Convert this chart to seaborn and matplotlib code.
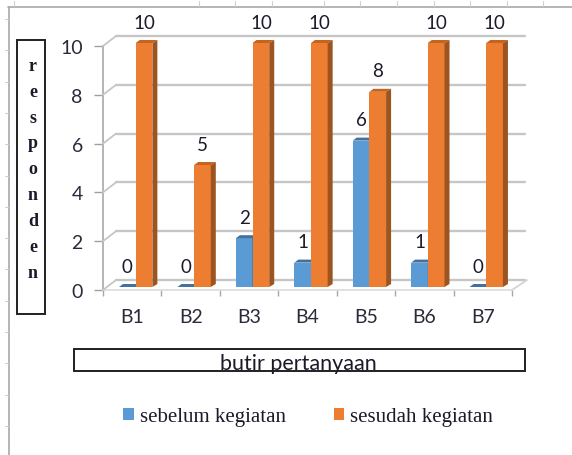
import matplotlib
matplotlib.use('Agg')
import matplotlib.pyplot as plt
from matplotlib.lines import Line2D
from matplotlib.patches import Polygon, Rectangle
from matplotlib.transforms import Affine2D
import pandas as pd
import seaborn as sns

# data
questions = ['B1', 'B2', 'B3', 'B4', 'B5', 'B6', 'B7']
sebelum = [0, 0, 2, 1, 6, 1, 0]
sesudah = [10, 5, 10, 10, 8, 10, 10]
series_names = ['sebelum kegiatan', 'sesudah kegiatan']

df = pd.DataFrame({
    'butir': questions * 2,
    'jumlah': sebelum + sesudah,
    'kegiatan': [series_names[0]] * 7 + [series_names[1]] * 7,
})

W, H = 572, 456
sns.set_style('white')
plt.rcParams['font.family'] = ['Lato', 'DejaVu Sans']
fig = plt.figure(figsize=(W / 100, H / 100), dpi=100)


def px_rect(x0, y0, x1, y1):
    return [x0 / W, 1 - y1 / H, (x1 - x0) / W, (y1 - y0) / H]


# axes = front plane of the fake 3D box
ax = fig.add_axes(px_rect(103, 47, 512, 291))
sns.barplot(data=df, x='butir', y='jumlah', hue='kegiatan', hue_order=series_names,
            palette=['#5b9bd5', '#ed7d31'], width=0.57, gap=0, saturation=1, linewidth=0, ax=ax)
ax.set_xlim(-0.5, 6.5)
ax.set_ylim(0, 10)
ax.patch.set_alpha(0)

bar_tf = ax.transData + Affine2D().translate(3.5, 3)
back_tf = ax.transData + Affine2D().translate(13, 10)
grid_color = '#c6c6c6'

# back wall gridlines and the diagonals to the front plane
for v in range(0, 11, 2):
    ax.plot([-0.5, 6.5], [v, v], color=grid_color, lw=1.7, transform=back_tf, clip_on=False, zorder=0.5)
    x0, y0 = ax.transData.transform((-0.5, v))
    fig.add_artist(Line2D([x0 / W, (x0 + 13) / W], [y0 / H, (y0 + 10) / H], color=grid_color, lw=1.3, zorder=0.5))
xr, yr = ax.transData.transform((6.5, 0))
fig.add_artist(Line2D([xr / W, (xr + 15) / W], [yr / H, (yr + 10) / H], color='#d4d4d4', lw=1.3, zorder=0.5))

for sp in ['top', 'right']:
    ax.spines[sp].set_visible(False)
ax.spines['left'].set_color('#b4b4b4')
ax.spines['left'].set_linewidth(1.4)
ax.spines['bottom'].set_color('#dcdcdc')
ax.spines['bottom'].set_linewidth(1.2)

# bars with side and top faces, orange in front of the blue ones
face_dark = [('#41719c', '#2f5d85'), ('#c4641f', '#9c5420')]
for z, cont, (top_c, side_c), vals in zip([3, 4], ax.containers, face_dark, [sebelum, sesudah]):
    for bar, val in zip(cont, vals):
        bar.set_transform(bar_tf)
        bar.set_clip_on(False)
        bar.set_zorder(z)
        x0, x1 = bar.get_x(), bar.get_x() + bar.get_width()
        (xa, ya), (xb, yb) = bar_tf.transform([(x0, val), (x1, 0)])
        top = Polygon([(xa, ya), (xa + 4, ya + 3), (xb + 5, ya + 3), (xb, ya)], closed=True,
                      transform=None, facecolor=top_c, edgecolor='none', zorder=z, clip_on=False)
        ax.add_artist(top)
        if val > 0:
            side = Polygon([(xb, yb), (xb + 5, yb + 3), (xb + 5, ya + 3), (xb, ya)], closed=True,
                           transform=None, facecolor=side_c, edgecolor='none', zorder=z, clip_on=False)
            ax.add_artist(side)
        ax.annotate(str(val), xy=((x0 + x1) / 2, val), xycoords=bar_tf, xytext=(0, 15),
                    textcoords='offset points', ha='center', va='center', fontsize=13.5,
                    color='#1a1a2a', zorder=5, annotation_clip=False)

# axes ticks
ax.set_yticks(range(0, 11, 2))
ax.tick_params(axis='y', length=6.5, width=1, color='#a0a0a0', left=True, labelsize=14,
               labelcolor='#2a2a3a', pad=8)
ax.set_xticks([i - 0.5 for i in range(8)], minor=True)
ax.tick_params(axis='x', which='minor', length=4.5, width=1, color='#a8a8a8', bottom=True)
ax.tick_params(axis='x', which='major', length=0, labelsize=14, labelcolor='#2a2a3a', pad=13)

# axis titles inside their boxes
ax.set_xlabel('butir pertanyaan', fontsize=15.5, color='#1a1a2a')
ax.xaxis.set_label_coords(0.478, -0.257)
ax.set_ylabel('\n'.join('responden'), rotation=0, fontsize=13, fontweight='bold', fontfamily='Liberation Serif',
              color='#1a1a2a', linespacing=1.68, ha='center', va='center')
ax.yaxis.set_label_coords(-0.171, 0.497)

for x0, y0, x1, y1 in [(17, 41, 45, 315), (74, 350, 525, 372)]:
    fig.add_artist(Rectangle((x0 / W, 1 - y1 / H), (x1 - x0) / W, (y1 - y0) / H, fill=False,
                             edgecolor='#202020', linewidth=1.4, transform=fig.transFigure))

# legend
leg = ax.get_legend()
handles = leg.legend_handles
leg.remove()
fig.legend(handles, series_names, loc='center', bbox_to_anchor=(308 / W, 1 - 418 / H), ncol=2, frameon=False,
           handlelength=0.52, handleheight=0.5, handletextpad=0.29, columnspacing=2.3,
           prop={'family': 'Liberation Serif', 'size': 15}, labelcolor='#1a1a2a')

# pieces of the spreadsheet behind the chart
sheet = '#a8a8a8'
fig.add_artist(Line2D([8.5 / W, 8.5 / W], [0, 1 - 8 / H], color=sheet, lw=1.2))
fig.add_artist(Line2D([8 / W, 1], [1 - 8 / H, 1 - 8 / H], color=sheet, lw=1.2))
for i in range(14):
    yy = 20 + i * 31.3
    fig.add_artist(Line2D([5 / W, 8 / W], [1 - yy / H] * 2, color='#d0d0d0', lw=0.8))
for xx in [14, 199, 235, 272, 324, 360, 397, 434, 470, 507, 543]:
    fig.add_artist(Line2D([xx / W] * 2, [1 - 2 / H, 1 - 7 / H], color='#d0d0d0', lw=0.8))

plt.savefig('out.png', dpi=100)
